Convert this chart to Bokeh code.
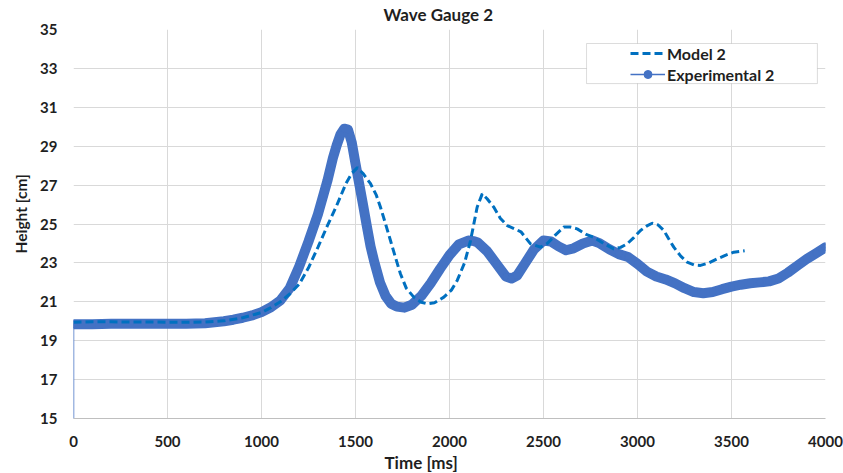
from bokeh.plotting import figure
from bokeh.models import (ColumnDataSource, FixedTicker, Legend, LegendItem,
                          Title, BoxAnnotation, Range1d)
from bokeh.embed import file_html
from bokeh.resources import INLINE

# ---------------- data ----------------
title_text = "Wave Gauge 2"
x_label = "Time [ms]"
y_label = "Height [cm]"
x_ticks = [0, 500, 1000, 1500, 2000, 2500, 3000, 3500, 4000]
y_ticks = [15, 17, 19, 21, 23, 25, 27, 29, 31, 33, 35]

model_t = [0, 100, 200, 300, 400, 500, 600, 700, 800, 900, 1000, 1050, 1100,
           1150, 1200, 1250, 1300, 1350, 1400, 1450, 1480, 1510, 1540, 1580,
           1610, 1633, 1660, 1686, 1712, 1739, 1770, 1810, 1850, 1881, 1920,
           1970, 2010, 2041, 2080, 2112, 2147, 2174, 2200, 2236, 2270, 2307,
           2340, 2380, 2431, 2484, 2520, 2560, 2608, 2640, 2679, 2730, 2767,
           2820, 2874, 2910, 2945, 2980, 3016, 3050, 3078, 3110, 3140, 3165,
           3193, 3230, 3264, 3300, 3335, 3380, 3424, 3470, 3512, 3570]
model_h = [19.95, 19.97, 19.97, 19.96, 19.96, 19.95, 19.95, 19.96, 20.02, 20.18,
           20.45, 20.7, 21.0, 21.4, 21.9, 22.75, 23.8, 24.9, 25.95, 27.1, 27.6,
           27.9, 27.6, 27.07, 26.5, 25.86, 25.0, 24.15, 23.3, 22.44, 21.7,
           21.24, 20.98, 20.9, 20.95, 21.24, 21.6, 22.1, 23.0, 24.15, 25.86,
           26.55, 26.3, 25.86, 25.3, 24.92, 24.78, 24.6, 23.98, 23.81, 24.0,
           24.4, 24.84, 24.85, 24.75, 24.45, 24.32, 24.0, 23.72, 23.8, 23.98,
           24.3, 24.67, 24.9, 25.04, 24.95, 24.67, 24.25, 23.81, 23.35, 23.04,
           22.9, 22.87, 23.0, 23.21, 23.4, 23.55, 23.62]

exp_t = [0, 0, 100, 200, 300, 400, 500, 600, 700, 750, 800, 850, 900, 950, 1000,
         1050, 1100, 1150, 1200, 1250, 1300, 1350, 1380, 1400, 1420, 1440, 1460,
         1480, 1500, 1520, 1540, 1560, 1580, 1600, 1630, 1660, 1690, 1720,
         1760, 1800, 1850, 1900, 1950, 2000, 2050, 2100, 2130, 2150, 2200,
         2250, 2300, 2330, 2360, 2400, 2450, 2500, 2540, 2580, 2620, 2660,
         2710, 2760, 2800, 2850, 2900, 2950, 3000, 3050, 3100, 3150, 3200,
         3250, 3300, 3350, 3400, 3450, 3500, 3550, 3600, 3650, 3700, 3750,
         3800, 3850, 3900, 3950, 4000]
exp_h = [0.0, 19.85, 19.85, 19.87, 19.87, 19.87, 19.87, 19.87, 19.9, 19.95,
         20.0, 20.08, 20.18, 20.3, 20.47, 20.72, 21.07, 21.7, 22.8, 24.1,
         25.5, 27.2, 28.4, 29.05, 29.6, 29.9, 29.85, 29.2, 28.1, 27.05, 26.0,
         24.9, 23.85, 23.05, 22.0, 21.3, 20.9, 20.75, 20.7, 20.85, 21.3, 21.95,
         22.7, 23.4, 23.95, 24.15, 24.12, 24.05, 23.6, 22.95, 22.3, 22.2,
         22.35, 22.95, 23.7, 24.15, 24.1, 23.85, 23.65, 23.75, 24.0, 24.15,
         24.0, 23.7, 23.45, 23.3, 22.95, 22.55, 22.3, 22.15, 21.95, 21.7,
         21.5, 21.44, 21.5, 21.65, 21.78, 21.88, 21.95, 22.0, 22.05, 22.2,
         22.5, 22.85, 23.2, 23.5, 23.8]

# ---------------- styling ----------------
FONT = "Lato"
TXT = "#1f1f1f"
EXP_COLOR = "#4472C4"
MODEL_COLOR = "#0070C0"
GRID = "#D9D9D9"

p = figure(output_backend="svg", toolbar_location=None,
           width=843, height=473,
           frame_width=752, frame_height=389,
           min_border_left=73, min_border_right=18,
           min_border_top=29, min_border_bottom=55,
           x_range=Range1d(0, 4000), y_range=Range1d(15, 35))
p.outline_line_color = None
p.background_fill_color = "white"
p.border_fill_color = "white"

p.xaxis.ticker = FixedTicker(ticks=x_ticks)
p.yaxis.ticker = FixedTicker(ticks=y_ticks)
p.xgrid.ticker = FixedTicker(ticks=x_ticks)
p.ygrid.ticker = FixedTicker(ticks=y_ticks)
p.xgrid.grid_line_color = GRID
p.ygrid.grid_line_color = GRID
p.xgrid.grid_line_width = 1
p.ygrid.grid_line_width = 1

for ax in (p.xaxis, p.yaxis):
    ax.major_tick_line_color = None
    ax.minor_tick_line_color = None
    ax.major_tick_out = 0
    ax.major_tick_in = 0
    ax.minor_tick_out = 0
    ax.minor_tick_in = 0
    ax.major_label_text_font = FONT
    ax.major_label_text_font_style = "bold"
    ax.major_label_text_font_size = "15px"
    ax.major_label_text_color = TXT
p.xaxis.axis_line_color = "#BFBFBF"
p.yaxis.axis_line_color = None
p.xaxis.major_label_standoff = 17
p.yaxis.major_label_standoff = 16

# ---------------- series ----------------
model_src = ColumnDataSource(dict(t=model_t, h=model_h))
exp_src = ColumnDataSource(dict(t=exp_t, h=exp_h))
exp_band = ColumnDataSource(dict(t=exp_t[1:], h=exp_h[1:]))

exp_thin = p.line("t", "h", source=exp_src, line_color=EXP_COLOR, line_width=1.5)
p.line("t", "h", source=exp_band, line_color=EXP_COLOR, line_width=10,
       line_join="round", line_cap="round")
exp_pts = p.scatter("t", "h", source=exp_band, marker="circle", size=7,
                    fill_color=EXP_COLOR, line_color=EXP_COLOR)
model_r = p.line("t", "h", source=model_src, line_color=MODEL_COLOR,
                 line_width=3, line_dash="8 4")

# ---------------- legend ----------------
box = BoxAnnotation(left=2729, right=3957, bottom=32.22, top=34.28,
                    fill_color="white", fill_alpha=1.0,
                    line_color="#8C8C8C", line_width=1)
p.add_layout(box)

legend = Legend(items=[LegendItem(label="Model 2", renderers=[model_r]),
                       LegendItem(label="Experimental 2", renderers=[exp_thin, exp_pts])],
                location=(554, 331), glyph_width=35, glyph_height=20,
                label_height=20, label_standoff=2, padding=3, spacing=1,
                border_line_alpha=0, background_fill_alpha=0,
                label_text_font=FONT, label_text_font_style="bold",
                label_text_font_size="16px", label_text_color=TXT)
p.add_layout(legend)

# ---------------- titles ----------------
p.title = Title(text=title_text, align="left", offset=310, standoff=6,
                vertical_align="top",
                text_font=FONT, text_font_style="bold", text_font_size="17px",
                text_color=TXT)
p.add_layout(Title(text=x_label, align="left", offset=311, standoff=1,
                   text_font=FONT, text_font_style="bold", text_font_size="17px",
                   text_color=TXT), "below")
p.add_layout(Title(text=y_label, align="left", offset=165, standoff=15,
                   text_font=FONT, text_font_style="bold", text_font_size="15.5px",
                   text_color=TXT), "left")

open("out.html", "w").write(file_html(p, INLINE))
